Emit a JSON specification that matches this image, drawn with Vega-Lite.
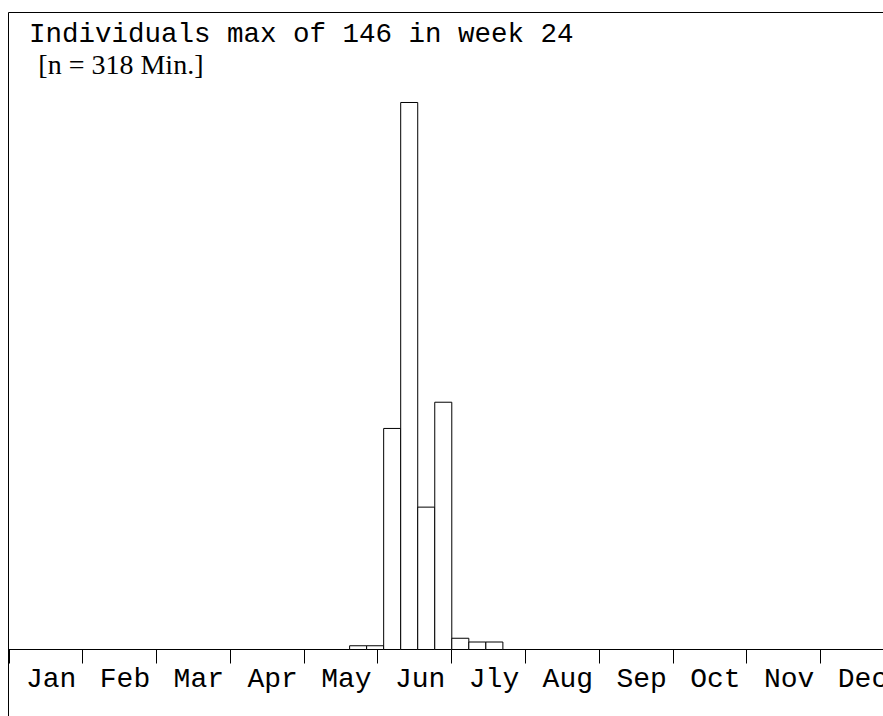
{
  "$schema": "https://vega.github.io/schema/vega-lite/v6.json",
  "width": 875,
  "height": 704,
  "autosize": {"type": "none"},
  "padding": {"left": 8, "top": 12, "right": 0, "bottom": 0},
  "background": "white",
  "title": {
    "text": "Individuals max of 146 in week 24",
    "subtitle": "\u200b\u00a0\u200a[n = 318 Min.]",
    "anchor": "start",
    "frame": "group",
    "orient": "top",
    "offset": 0,
    "dx": 21,
    "dy": 68,
    "font": "Liberation Mono",
    "fontSize": 27.5,
    "fontWeight": "normal",
    "color": "black",
    "subtitleFont": "Liberation Serif",
    "subtitleFontSize": 28,
    "subtitleColor": "black",
    "subtitlePadding": 5
  },
  "data": {
    "values": [
      {"week": 21, "count": 1},
      {"week": 22, "count": 1},
      {"week": 23, "count": 59},
      {"week": 24, "count": 146},
      {"week": 25, "count": 38},
      {"week": 26, "count": 66},
      {"week": 27, "count": 3},
      {"week": 28, "count": 2},
      {"week": 29, "count": 2}
    ]
  },
  "layer": [
    {
      "mark": {"type": "bar", "fill": "white", "stroke": "black", "strokeWidth": 1, "binSpacing": 0},
      "encoding": {
        "x": {
          "field": "week",
          "type": "quantitative",
          "bin": {"step": 1, "extent": [1, 53]},
          "scale": {"domain": [0.97, 52.35], "nice": false, "zero": false},
          "axis": {
            "orient": "bottom",
            "offset": -67,
            "values": [1, 5.333333, 9.666667, 14, 18.333333, 22.666667, 27, 31.333333, 35.666667, 40, 44.333333, 48.666667],
            "labelExpr": "['Jan','Feb','Mar','Apr','May','Jun','Jly','Aug','Sep','Oct','Nov','Dec'][round((datum.value-1)*12/52)]",
            "domainColor": "black",
            "tickColor": "black",
            "tickSize": 14,
            "labelAlign": "left",
            "labelOffset": 17,
            "labelBaseline": "alphabetic",
            "labelPadding": 23,
            "labelFont": "Liberation Mono",
            "labelFontSize": 28,
            "labelColor": "black",
            "labelFlush": false,
            "labelOverlap": false,
            "labelBound": false,
            "grid": false,
            "title": null
          }
        },
        "y": {
          "field": "count",
          "type": "quantitative",
          "scale": {"domain": [-17.749, 170.155], "nice": false, "zero": false},
          "axis": {"domain": true, "domainColor": "black", "ticks": false, "labels": false, "grid": false, "title": null}
        }
      }
    },
    {
      "mark": {"type": "point", "opacity": 0},
      "encoding": {
        "x": {
          "field": "week",
          "type": "quantitative",
          "axis": {"orient": "top", "domainColor": "black", "ticks": false, "labels": false, "grid": false, "title": null}
        }
      }
    }
  ],
  "resolve": {"axis": {"x": "independent"}},
  "config": {"view": {"stroke": null}, "font": "Liberation Mono"}
}
